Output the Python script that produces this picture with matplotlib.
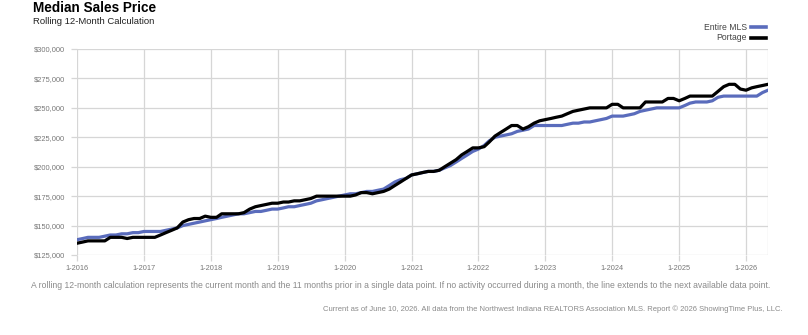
import matplotlib
matplotlib.use("Agg")
import matplotlib.pyplot as plt
from matplotlib import font_manager
import pandas as pd

# ---------------- data ----------------
start_month = "2016-01-01"
n_months = 125

entire_mls = [
    138, 139, 140, 140, 140, 141, 142, 142, 143, 143, 144, 144,   # 2016
    145, 145, 145, 145, 146, 147, 148, 150, 151, 152, 153, 154,   # 2017
    155, 156, 157, 158, 159, 160, 160, 161, 162, 162, 163, 164,   # 2018
    164, 165, 166, 166, 167, 168, 169, 171, 172, 173, 174, 175,   # 2019
    176, 177, 177, 178, 179, 179, 180, 181, 184, 187, 189, 190,   # 2020
    193, 194, 195, 196, 196, 197, 199, 201, 204, 207, 210, 213,   # 2021
    215, 218, 222, 225, 226, 227, 228, 230, 231, 232, 235, 235,   # 2022
    235, 235, 235, 235, 236, 237, 237, 238, 238, 239, 240, 241,   # 2023
    243, 243, 243, 244, 245, 247, 248, 249, 250, 250, 250, 250,   # 2024
    250, 252, 254, 255, 255, 255, 256, 259, 260, 260, 260, 260,   # 2025
    260, 260, 260, 263, 265,                                      # 2026
]
portage = [
    135, 136, 137, 137, 137, 137, 140, 140, 140, 139, 140, 140,   # 2016
    140, 140, 140, 142, 144, 146, 148, 153, 155, 156, 156, 158,   # 2017
    157, 157, 160, 160, 160, 160, 161, 164, 166, 167, 168, 169,   # 2018
    169, 170, 170, 171, 171, 172, 173, 175, 175, 175, 175, 175,   # 2019
    175, 175, 176, 178, 178, 177, 178, 179, 181, 184, 187, 190,   # 2020
    193, 194, 195, 196, 196, 197, 200, 203, 206, 210, 213, 216,   # 2021
    216, 217, 221, 226, 229, 232, 235, 235, 232, 234, 237, 239,   # 2022
    240, 241, 242, 243, 245, 247, 248, 249, 250, 250, 250, 250,   # 2023
    253, 253, 250, 250, 250, 250, 255, 255, 255, 255, 258, 258,   # 2024
    256, 258, 260, 260, 260, 260, 260, 264, 268, 270, 270, 266,   # 2025
    265, 267, 268, 269, 270,                                      # 2026
]
series_names = ["Entire MLS", "Portage"]
y_ticks = [125000, 150000, 175000, 200000, 225000, 250000, 275000, 300000]
tick_years = list(range(2016, 2027))

title = "Median Sales Price"
subtitle = "Rolling 12-Month Calculation"
footnote1 = ("A rolling 12-month calculation represents the current month and the 11 months prior "
             "in a single data point. If no activity occurred during a month, the line extends to "
             "the next available data point.")
footnote2 = ("Current as of June 10, 2026. All data from the Northwest Indiana REALTORS Association MLS. "
             "Report \u00a9 2026 ShowingTime Plus, LLC.")

# ---------------- fonts ----------------
available = {f.name for f in font_manager.fontManager.ttflist}
narrow = "Liberation Sans Narrow" if "Liberation Sans Narrow" in available else "Liberation Sans"
FONT = [narrow, "DejaVu Sans"]
plt.rcParams["font.family"] = FONT

# ---------------- figure ----------------
W, H = 808, 335
fig = plt.figure(figsize=(W / 100, H / 100), dpi=100)
fig.patch.set_facecolor("white")

ax_l, ax_r, ax_t, ax_b = 77, 768, 49, 255
ax = fig.add_axes([ax_l / W, 1 - ax_b / H, (ax_r - ax_l) / W, (ax_b - ax_t) / H])

dates = pd.date_range(start_month, periods=n_months, freq="MS")
mls_vals = [v * 1000 for v in entire_mls]
port_vals = [v * 1000 for v in portage]

blue = "#5a6cbc"
ax.plot(dates, mls_vals, color=blue, lw=2.3, solid_joinstyle="round", zorder=3)
ax.plot(dates, port_vals, color="black", lw=2.3, solid_joinstyle="round", zorder=4)

ax.set_xlim(dates[0], dates[-1])
ax.set_ylim(y_ticks[0], y_ticks[-1])

grid_c = "#d6d6d6"
ax.set_yticks(y_ticks)
ax.set_yticklabels([f"${v:,.0f}" for v in y_ticks])
xt = [pd.Timestamp(f"{y}-01-01") for y in tick_years]
ax.set_xticks(xt)
ax.set_xticklabels([f"1-{y}" for y in tick_years])

ax.grid(True, color=grid_c, lw=0.9, zorder=0)
ax.axvline(dates[-1], color=grid_c, lw=0.9, zorder=0)
for s in ax.spines.values():
    s.set_visible(False)
ax.tick_params(axis="both", colors=grid_c, length=4, width=0.9,
               labelcolor="#777777")
ax.tick_params(axis="y", pad=4.5, labelsize=5.4)
ax.tick_params(axis="x", pad=3.5, labelsize=5.3)
ax.set_facecolor("white")

# ---------------- text ----------------
fig.text(33 / W, 1 - 12.5 / H, title, fontsize=9.8, fontweight="bold",
         color="black", ha="left", va="baseline")
fig.text(33 / W, 1 - 24.5 / H, subtitle, fontsize=6.8, color="#222222",
         ha="left", va="baseline")

# legend
leg_items = [(series_names[0], blue, 27), (series_names[1], "black", 38)]
for name, col, yy in leg_items:
    fig.text(747 / W, 1 - yy / H, name, fontsize=6.2, color="#444444",
             ha="right", va="center")
    fig.add_artist(plt.Line2D([751 / W, 766 / W], [1 - yy / H, 1 - yy / H],
                              color=col, lw=2.6, transform=fig.transFigure))

fig.text(401 / W, 1 - 286 / H, footnote1, fontsize=6.2, color="#8a8a8a",
         ha="center", va="center")
fig.text(783 / W, 1 - 309 / H, footnote2, fontsize=5.5, color="#8a8a8a",
         ha="right", va="center")

fig.savefig("out.png", dpi=100, facecolor="white")
